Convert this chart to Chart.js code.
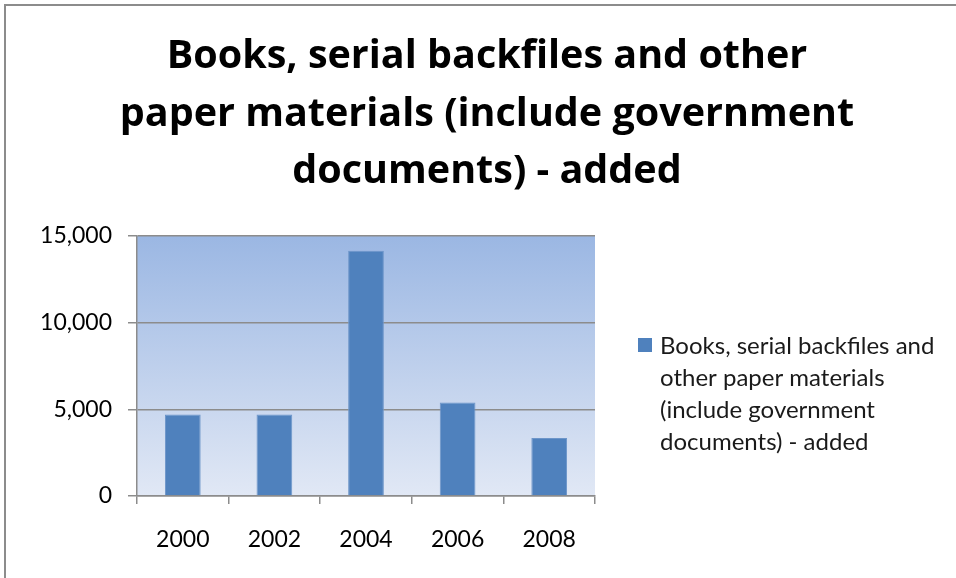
<!DOCTYPE html>
<html>
<head>
<meta charset="utf-8">
<script src="https://cdn.jsdelivr.net/npm/chart.js@4"></script>
<style>
html,body{margin:0;padding:0;background:#fff;overflow:hidden;width:956px;height:578px;}
canvas{display:block;}
</style>
</head>
<body>
<canvas id="c" width="974" height="600"></canvas>
<script>
const categories = ["2000", "2002", "2004", "2006", "2008"];
const values = [4700, 4700, 14150, 5400, 3350];
const seriesName = "Books, serial backfiles and other paper materials (include government documents) - added";
const titleLines = ["Books, serial backfiles and other", "paper materials (include government", "documents) - added"];
const yTicks = [0, 5000, 10000, 15000];

const FONT = "Lato, 'Open Sans', sans-serif";
const TITLE_FONT = "'Open Sans', Lato, sans-serif";

const framePlugin = {
  id: 'frame',
  beforeDraw(chart) {
    const ctx = chart.ctx, a = chart.chartArea;
    ctx.save();
    ctx.fillStyle = '#fff';
    ctx.fillRect(0, 0, chart.width, chart.height);
    ctx.strokeStyle = '#8c8c8c';
    ctx.lineWidth = 2;
    ctx.beginPath();
    ctx.moveTo(5, chart.height + 10);
    ctx.lineTo(5, 5);
    ctx.lineTo(chart.width + 10, 5);
    ctx.stroke();
    const g = ctx.createLinearGradient(0, a.top, 0, a.bottom);
    g.addColorStop(0, '#9bb7e3');
    g.addColorStop(1, '#e1e8f5');
    ctx.fillStyle = g;
    ctx.fillRect(a.left, a.top, a.right - a.left, a.bottom - a.top);
    ctx.restore();
  }
};

const titlePlugin = {
  id: 'centeredTitle',
  afterDraw(chart) {
    const ctx = chart.ctx;
    ctx.save();
    ctx.font = "bold 39.5px " + TITLE_FONT;
    ctx.fillStyle = '#000';
    ctx.textAlign = 'center';
    ctx.textBaseline = 'middle';
    titleLines.forEach((l, i) => ctx.fillText(l, 487, 57 + i * 57.5));
    ctx.restore();
  }
};

const legendPlugin = {
  id: 'sideLegend',
  afterDraw(chart) {
    const ctx = chart.ctx, a = chart.chartArea;
    const ds = chart.data.datasets[0];
    const x = a.right + 43;
    const y0 = 346;
    const lh = 32;
    ctx.save();
    ctx.font = "24px " + FONT;
    ctx.fillStyle = ds.backgroundColor;
    ctx.fillRect(x, y0 - 8, 14, 14);
    const words = ds.label.split(' ');
    const lines = [];
    let cur = '';
    const maxW = 290;
    for (const w of words) {
      const t = cur ? cur + ' ' + w : w;
      if (ctx.measureText(t).width > maxW && cur) { lines.push(cur); cur = w; }
      else cur = t;
    }
    if (cur) lines.push(cur);
    ctx.fillStyle = '#1a1a1a';
    ctx.textBaseline = 'middle';
    ctx.textAlign = 'left';
    lines.forEach((l, i) => ctx.fillText(l, x + 22, y0 + i * lh));
    ctx.restore();
  }
};

new Chart(document.getElementById('c'), {
  type: 'bar',
  data: {
    labels: categories,
    datasets: [{
      label: seriesName,
      data: values,
      backgroundColor: '#4f81bd',
      borderColor: '#6d95c9',
      borderWidth: 1,
      barPercentage: 0.39,
      categoryPercentage: 1.0
    }]
  },
  options: {
    responsive: false,
    animation: false,
    layout: { padding: { left: 10, right: 379, top: 236, bottom: 0 } },
    plugins: {
      legend: { display: false },
      tooltip: { enabled: false },
      title: { display: false }
    },
    scales: {
      x: {
        afterFit(s) { s.height = 104; },
        grid: { display: true, drawOnChartArea: false, color: '#8c8c8c', tickLength: 8, lineWidth: 1.5, offset: true },
        border: { display: true, color: '#8c8c8c', width: 1.5 },
        ticks: { color: '#000', font: { family: FONT, size: 23 }, padding: 22 }
      },
      y: {
        min: 0,
        max: 15000,
        afterFit(s) { s.width = 127; },
        afterBuildTicks(s) { s.ticks = yTicks.map(v => ({ value: v })); },
        grid: { color: '#8c8c8c', lineWidth: 1.5, tickLength: 9 },
        border: { display: true, color: '#8c8c8c', width: 1.5 },
        ticks: {
          color: '#000',
          font: { family: FONT, size: 23 },
          padding: 16,
          callback: v => v.toLocaleString('en-US')
        }
      }
    }
  },
  plugins: [framePlugin, titlePlugin, legendPlugin]
});
</script>
</body>
</html>
